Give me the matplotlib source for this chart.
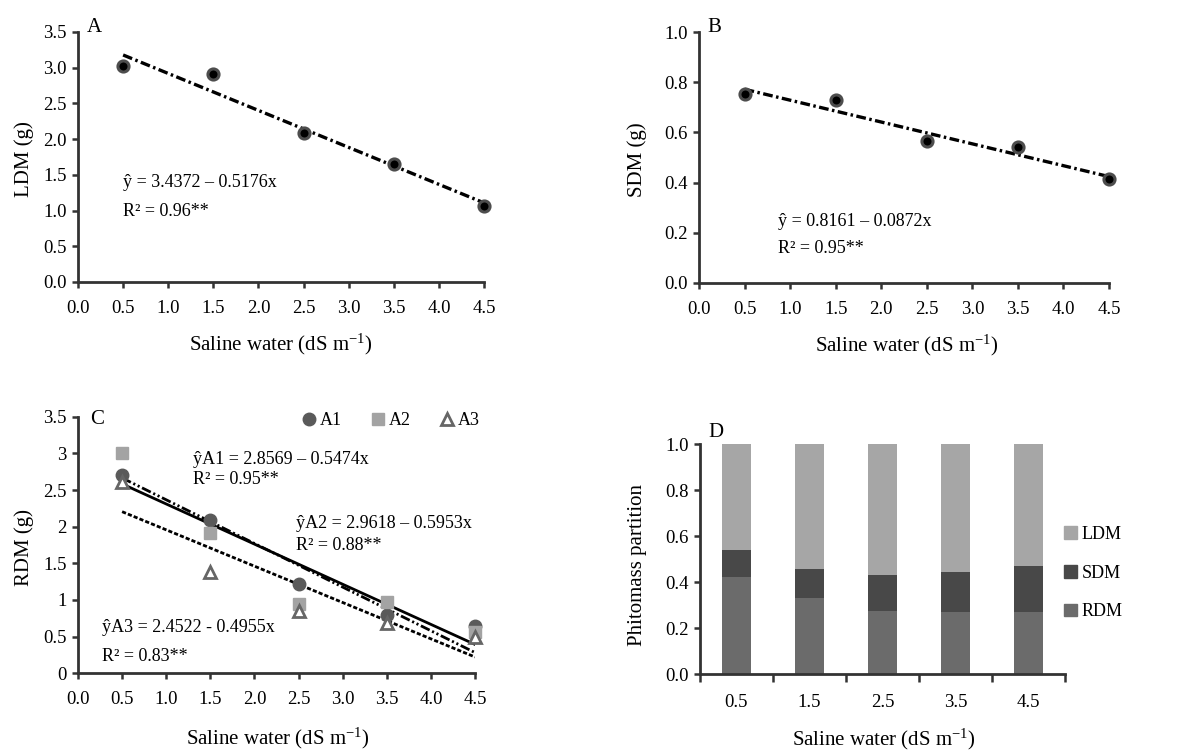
import matplotlib
matplotlib.use("Agg")
import matplotlib.pyplot as plt
import numpy as np
from matplotlib.patches import Patch

plt.rcParams['font.family'] = ['Liberation Serif', 'DejaVu Serif']
plt.rcParams['mathtext.fontset'] = 'custom'
plt.rcParams['mathtext.rm'] = 'Liberation Serif'
plt.rcParams['mathtext.it'] = 'Liberation Serif:italic'
plt.rcParams['lines.scale_dashes'] = False

# ---------------- data ----------------
salinity = [0.5, 1.5, 2.5, 3.5, 4.5]
x_ticks = [0.0, 0.5, 1.0, 1.5, 2.0, 2.5, 3.0, 3.5, 4.0, 4.5]
x_ticklabels = ["0.0", "0.5", "1.0", "1.5", "2.0", "2.5", "3.0", "3.5", "4.0", "4.5"]

ldm = [3.02, 2.91, 2.08, 1.65, 1.07]
ldm_fit = (3.4372, -0.5176)
ldm_yticks = [0.0, 0.5, 1.0, 1.5, 2.0, 2.5, 3.0, 3.5]
ldm_yticklabels = ["0.0", "0.5", "1.0", "1.5", "2.0", "2.5", "3.0", "3.5"]

sdm = [0.755, 0.73, 0.567, 0.54, 0.415]
sdm_fit = (0.8161, -0.0872)
sdm_yticks = [0.0, 0.2, 0.4, 0.6, 0.8, 1.0]
sdm_yticklabels = ["0.0", "0.2", "0.4", "0.6", "0.8", "1.0"]

rdm_a1 = [2.71, 2.09, 1.22, 0.79, 0.64]
rdm_a2 = [3.01, 1.91, 0.945, 0.97, 0.56]
rdm_a3 = [2.61, 1.38, 0.85, 0.69, 0.49]
fit_a1 = (2.8569, -0.5474)
fit_a2 = (2.9618, -0.5953)
fit_a3 = (2.4522, -0.4955)
rdm_yticks = [0, 0.5, 1, 1.5, 2, 2.5, 3, 3.5]
rdm_yticklabels = ["0", "0.5", "1", "1.5", "2", "2.5", "3", "3.5"]

part_categories = ["0.5", "1.5", "2.5", "3.5", "4.5"]
part_rdm = [0.425, 0.33, 0.275, 0.27, 0.27]
part_sdm = [0.115, 0.13, 0.155, 0.175, 0.20]
part_ldm = [1 - r - s for r, s in zip(part_rdm, part_sdm)]
part_yticks = [0.0, 0.2, 0.4, 0.6, 0.8, 1.0]
part_yticklabels = ["0.0", "0.2", "0.4", "0.6", "0.8", "1.0"]

xlabel = "Saline water (dS m$^{\\mathregular{-1}}$)"

# ---------------- figure ----------------
fig = plt.figure(figsize=(11.94, 7.51), dpi=100)
W, H = 1194, 751


def make_ax(l, r, b, t):
    return fig.add_axes([l / W, 1 - b / H, (r - l) / W, (b - t) / H])


axA = make_ax(78, 484, 282, 32)
axB = make_ax(699, 1109, 282.7, 32.3)
axC = make_ax(78, 475, 673.3, 416.7)
axD = make_ax(700, 1065, 674.3, 444.3)

SP = '#333333'
TICK_FS = 13.5
LAB_FS = 15


def style(ax, xpad=9, ypad=4):
    for s in ['top', 'right']:
        ax.spines[s].set_visible(False)
    for s in ['left', 'bottom']:
        ax.spines[s].set_color(SP)
        ax.spines[s].set_linewidth(2.0)
    ax.tick_params(axis='both', direction='out', length=4, width=1.8, color=SP,
                   labelsize=TICK_FS)
    ax.tick_params(axis='x', pad=xpad)
    ax.tick_params(axis='y', pad=ypad)


dashdot = (7, 2.5, 1.8, 2.5)

# Panel A
xs = np.array(salinity)
axA.plot(xs, ldm_fit[0] + ldm_fit[1] * xs, color='black', lw=2.4, dashes=dashdot, zorder=2)
axA.plot(salinity, ldm, 'o', ms=8, mfc='black', mec='#4d4d4d', mew=2.2, zorder=3,
         clip_on=False)
axA.set_xlim(0, 4.5)
axA.set_ylim(0, 3.5)
axA.set_xticks(x_ticks)
axA.set_xticklabels(x_ticklabels)
axA.set_yticks(ldm_yticks)
axA.set_yticklabels(ldm_yticklabels)
style(axA)
axA.set_ylabel("LDM (g)", fontsize=LAB_FS)
axA.yaxis.set_label_coords(-0.108, 0.49)
axA.set_xlabel(xlabel, fontsize=LAB_FS)
axA.xaxis.set_label_coords(0.5, -0.2)
axA.text(0.5, 1.39, "ŷ = 3.4372 \u2013 0.5176x", fontsize=13, va='center')
axA.text(0.5, 0.99, "R² = 0.96**", fontsize=13, va='center')
axA.text(0.022, 1.018, "A", transform=axA.transAxes, fontsize=15, va='center')

# Panel B
axB.plot(xs, sdm_fit[0] + sdm_fit[1] * xs, color='black', lw=2.4, dashes=dashdot, zorder=2)
axB.plot(salinity, sdm, 'o', ms=8, mfc='black', mec='#4d4d4d', mew=2.2, zorder=3,
         clip_on=False)
axB.set_xlim(0, 4.5)
axB.set_ylim(0, 1.0)
axB.set_xticks(x_ticks)
axB.set_xticklabels(x_ticklabels)
axB.set_yticks(sdm_yticks)
axB.set_yticklabels(sdm_yticklabels)
style(axB)
axB.set_ylabel("SDM (g)", fontsize=LAB_FS)
axB.yaxis.set_label_coords(-0.127, 0.49)
axB.set_xlabel(xlabel, fontsize=LAB_FS)
axB.xaxis.set_label_coords(0.508, -0.198)
axB.text(0.87, 0.245, "ŷ = 0.8161 \u2013 0.0872x", fontsize=13, va='center')
axB.text(0.87, 0.138, "R² = 0.95**", fontsize=13, va='center')
axB.text(0.02, 1.018, "B", transform=axB.transAxes, fontsize=15, va='center')

# Panel C
axC.plot(xs, fit_a1[0] + fit_a1[1] * xs, color='black', lw=2.0, zorder=2)
axC.plot(xs, fit_a2[0] + fit_a2[1] * xs, color='black', lw=2.0,
         dashes=(7, 2, 1.5, 2, 1.5, 2), zorder=2)
axC.plot(xs, fit_a3[0] + fit_a3[1] * xs, color='black', lw=2.0, dashes=(3, 1.5), zorder=2)
axC.plot(salinity, rdm_a1, 'o', ms=9, mfc='#5a5a5a', mec='#5a5a5a', zorder=3, label='A1',
         clip_on=False)
axC.plot(salinity, rdm_a2, 's', ms=8.5, mfc='#a3a3a3', mec='#a3a3a3', zorder=3, label='A2',
         clip_on=False)
axC.plot(salinity, rdm_a3, '^', ms=8, mfc='white', mec='#666666', mew=2.0, zorder=3,
         label='A3', clip_on=False)
axC.set_xlim(0, 4.5)
axC.set_ylim(0, 3.5)
axC.set_xticks(x_ticks)
axC.set_xticklabels(x_ticklabels)
axC.set_yticks(rdm_yticks)
axC.set_yticklabels(rdm_yticklabels)
style(axC)
axC.set_ylabel("RDM (g)", fontsize=LAB_FS)
axC.yaxis.set_label_coords(-0.112, 0.49)
axC.set_xlabel(xlabel, fontsize=LAB_FS)
axC.xaxis.set_label_coords(0.504, -0.203)
axC.text(1.30, 2.91, "ŷA1 = 2.8569 \u2013 0.5474x", fontsize=13, va='center')
axC.text(1.30, 2.64, "R² = 0.95**", fontsize=13, va='center')
axC.text(2.47, 2.05, "ŷA2 = 2.9618 \u2013 0.5953x", fontsize=13, va='center')
axC.text(2.47, 1.75, "R² = 0.88**", fontsize=13, va='center')
axC.text(0.27, 0.62, "ŷA3 = 2.4522 - 0.4955x", fontsize=13, va='center')
axC.text(0.27, 0.23, "R² = 0.83**", fontsize=13, va='center')
axC.text(0.03, 0.989, "C", transform=axC.transAxes, fontsize=15, va='center')
axC.legend(loc='center right', bbox_to_anchor=(1.03, 0.985), ncol=3, frameon=False,
           fontsize=13, handlelength=0.8, handletextpad=0.2, columnspacing=1.6,
           borderaxespad=0)

# Panel D
pos = np.arange(len(part_categories)) + 0.5
bw = 0.4
axD.bar(pos, part_rdm, width=bw, color='#6b6b6b', label='RDM', zorder=2)
axD.bar(pos, part_sdm, width=bw, bottom=part_rdm, color='#484848', label='SDM', zorder=2)
bottoms = [r + s for r, s in zip(part_rdm, part_sdm)]
axD.bar(pos, part_ldm, width=bw, bottom=bottoms, color='#a6a6a6', label='LDM', zorder=2)
axD.set_xlim(0, len(part_categories))
axD.set_ylim(0, 1.0)
axD.set_xticks(np.arange(len(part_categories) + 1))
axD.set_xticklabels([])
axD.set_xticks(pos, minor=True)
axD.set_xticklabels(part_categories, minor=True)
axD.set_yticks(part_yticks)
axD.set_yticklabels(part_yticklabels)
style(axD)
axD.tick_params(axis='x', which='major', length=6)
axD.tick_params(axis='x', which='minor', length=0, pad=14, labelsize=TICK_FS)
axD.set_ylabel("Phitomass partition", fontsize=LAB_FS)
axD.yaxis.set_label_coords(-0.145, 0.475)
axD.set_xlabel(xlabel, fontsize=LAB_FS)
axD.xaxis.set_label_coords(0.504, -0.23)
axD.text(0.022, 1.051, "D", transform=axD.transAxes, fontsize=15, va='center')
handles = [Patch(color='#a6a6a6'), Patch(color='#484848'), Patch(color='#6b6b6b')]
axD.legend(handles, ['LDM', 'SDM', 'RDM'], loc='center left', bbox_to_anchor=(0.978, 0.44),
           frameon=False, fontsize=13, handlelength=0.7, handleheight=0.7,
           handletextpad=0.25, labelspacing=1.2, borderaxespad=0)

fig.savefig("out.png", dpi=100)
